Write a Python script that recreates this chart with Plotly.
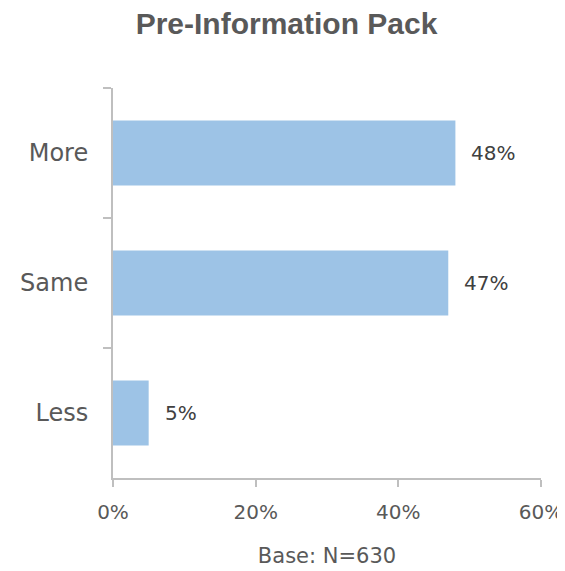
import plotly.graph_objects as go

# Survey answers and their shares (%)
categories = ["More", "Same", "Less"]
shares = [48, 47, 5]
x_ticks = [0, 20, 40, 60]
x_tick_labels = ["0%", "20%", "40%", "60%"]

body_font = "DejaVu Sans, sans-serif"
title_font = "Liberation Sans, Arial, sans-serif"
grey_text = "#595959"
axis_grey = "#BFBFBF"

# the html page has an 8px body margin, so the figure is a bit smaller
W, H = 557, 563

fig = go.Figure(go.Bar(
    x=shares,
    y=categories,
    orientation="h",
    marker=dict(color="#9DC3E6", line=dict(width=0)),
    width=0.5,
    hoverinfo="skip",
))

# value labels to the right of each bar
for cat, val in zip(categories, shares):
    fig.add_annotation(
        x=val, y=cat, text=f"{val}%", showarrow=False,
        xanchor="left", xshift=14,
        font=dict(family=body_font, size=20, color="#404040"),
    )

fig.update_layout(
    width=W, height=H,
    margin=dict(l=105, r=24, t=80, b=93),
    paper_bgcolor="white", plot_bgcolor="white",
    showlegend=False,
    title=dict(
        text="<b>Pre-Information Pack</b>",
        x=0.5, xanchor="center", y=1 - 15 / H, yanchor="middle",
        font=dict(family=title_font, size=30, color=grey_text),
    ),
    xaxis=dict(
        range=[0, 60], automargin=False,
        tickvals=x_ticks, ticktext=x_tick_labels,
        showgrid=False, zeroline=False,
        showline=True, linecolor=axis_grey, linewidth=2,
        ticks="outside", ticklen=7, tickcolor=axis_grey, tickwidth=2,
        tickfont=dict(family=body_font, size=20, color=grey_text),
        ticklabelstandoff=8,
        title=dict(text="Base: N=630", standoff=25,
                   font=dict(family=body_font, size=21, color=grey_text)),
        fixedrange=True,
    ),
    yaxis=dict(
        categoryorder="array", categoryarray=categories,
        autorange="reversed", automargin=False,
        showgrid=False, zeroline=False,
        showline=True, linecolor=axis_grey, linewidth=2,
        ticks="outside", tickson="boundaries", ticklen=8,
        tickcolor=axis_grey, tickwidth=2,
        tickfont=dict(family=body_font, size=24, color=grey_text),
        ticklabelstandoff=18,
        fixedrange=True,
    ),
)

fig.write_html("out.html")
